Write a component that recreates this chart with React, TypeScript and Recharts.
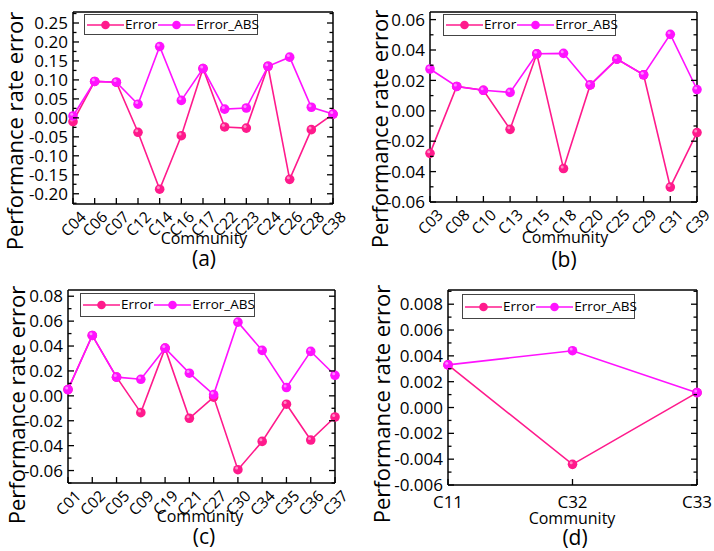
import React from "react";
import { LineChart, Line, XAxis, YAxis, Legend } from "recharts";

// ---- data -------------------------------------------------------------
const seriesNames = ["Error", "Error_ABS"];

const catsA = ["C04", "C06", "C07", "C12", "C14", "C16", "C17", "C22", "C23", "C24", "C26", "C28", "C38"];
const errA = [-0.01, 0.096, 0.094, -0.038, -0.188, -0.047, 0.13, -0.024, -0.027, 0.136, -0.162, -0.031, 0.01];
const absA = [0.005, 0.096, 0.094, 0.036, 0.188, 0.046, 0.13, 0.023, 0.026, 0.136, 0.16, 0.028, 0.01];
const ticksA = [-0.2, -0.15, -0.1, -0.05, 0, 0.05, 0.1, 0.15, 0.2, 0.25];

const catsB = ["C03", "C08", "C10", "C13", "C15", "C18", "C20", "C25", "C29", "C31", "C39"];
const errB = [-0.028, 0.016, 0.0135, -0.0122, 0.0375, -0.038, 0.017, 0.034, 0.0237, -0.0502, -0.0143];
const absB = [0.0275, 0.016, 0.0135, 0.0121, 0.0375, 0.0378, 0.017, 0.034, 0.0237, 0.0503, 0.014];
const ticksB = [-0.06, -0.04, -0.02, 0, 0.02, 0.04, 0.06];

const catsC = ["C01", "C02", "C05", "C09", "C19", "C21", "C27", "C30", "C34", "C35", "C36", "C37"];
const errC = [0.005, 0.0485, 0.015, -0.0135, 0.0383, -0.018, -0.001, -0.0593, -0.0366, -0.0067, -0.0355, -0.017];
const absC = [0.005, 0.0485, 0.015, 0.0133, 0.0383, 0.0182, 0.001, 0.0592, 0.0365, 0.0067, 0.0357, 0.0165];
const ticksC = [-0.06, -0.04, -0.02, 0, 0.02, 0.04, 0.06, 0.08];

const catsD = ["C11", "C32", "C33"];
const errD = [0.0033, -0.0044, 0.00115];
const absD = [0.0033, 0.0044, 0.00115];
const ticksD = [-0.006, -0.004, -0.002, 0, 0.002, 0.004, 0.006, 0.008];

// ---- styling ----------------------------------------------------------
const ERR_COLOR = "#ff1a8c";
const ABS_COLOR = "#ff12ff";
const FONT = "'Open Sans', sans-serif";

const build = (cats: string[], err: number[], abs: number[]) =>
  cats.map((name, i) => ({ name, Error: err[i], Error_ABS: abs[i] }));

// majors plus a minor tick half way between each pair (and past the ends, if in range)
const withMinors = (majors: number[], domain: [number, number]) => {
  const step = majors[1] - majors[0];
  const out: number[] = [];
  const cand = [majors[0] - step / 2, ...majors.flatMap((m) => [m, m + step / 2])];
  cand.forEach((v) => {
    if (v >= domain[0] - 1e-12 && v <= domain[1] + 1e-12) out.push(+v.toFixed(6));
  });
  return out;
};

const isMajor = (majors: number[], v: number) => majors.some((m) => Math.abs(m - v) < 1e-9);

const LeftTick = (props: any) => {
  const { x, y, payload, majors, digits } = props;
  const major = isMajor(majors, payload.value);
  return (
    <g>
      <line x1={x} x2={x + (major ? 6 : 3.5)} y1={y} y2={y} stroke="#000" strokeWidth={1.3} />
      {major && (
        <text x={x - 5} y={y} dy="0.36em" textAnchor="end" fontSize={17} fontFamily={FONT} fill="#000">
          {payload.value.toFixed(digits)}
        </text>
      )}
    </g>
  );
};

const RightTick = (props: any) => {
  const { x, y, payload, majors } = props;
  const major = isMajor(majors, payload.value);
  return <line x1={x} x2={x - (major ? 6 : 3.5)} y1={y} y2={y} stroke="#000" strokeWidth={1.3} />;
};

const BottomTick = (props: any) => {
  const { x, y, payload, rotate } = props;
  return (
    <g>
      <line x1={x} x2={x} y1={y} y2={y - 6} stroke="#000" strokeWidth={1.3} />
      {rotate ? (
        <text
          transform={`translate(${x + 10},${y + 10}) rotate(-45)`}
          dy="0.36em"
          textAnchor="end"
          fontSize={15.5}
          fontFamily={FONT}
          fill="#000"
        >
          {payload.value}
        </text>
      ) : (
        <text x={x} y={y + 17} dy="0.36em" textAnchor="middle" fontSize={17} fontFamily={FONT} fill="#000">
          {payload.value}
        </text>
      )}
    </g>
  );
};

const Ball = (color: string) => (p: any) => {
  const { cx, cy, index } = p;
  if (cx == null || cy == null) return <g key={index} />;
  return (
    <g key={index}>
      <circle cx={cx} cy={cy} r={4.8} fill={color} />
      <circle cx={cx - 1.3} cy={cy - 1.6} r={1.5} fill="#fff" opacity={0.5} />
    </g>
  );
};

const LegendBox = ({ payload, width, height }: any) => {
  const colors = [ERR_COLOR, ABS_COLOR];
  return (
    <div
      style={{
        width,
        height,
        boxSizing: "border-box",
        border: "1px solid #444",
        background: "#fff",
        display: "flex",
        alignItems: "center",
        paddingLeft: 2,
      }}
    >
      {seriesNames.map((name, i) => (
        <span key={name} style={{ display: "flex", alignItems: "center" }}>
          <svg width={37} height={10}>
            <line x1={0} x2={37} y1={5} y2={5} stroke={colors[i]} strokeWidth={1.6} />
            <circle cx={18.5} cy={5} r={4.3} fill={colors[i]} />
          </svg>
          <span style={{ fontFamily: FONT, fontSize: 13.5, color: "#000", lineHeight: 1, margin: "0 1px" }}>
            {payload && payload[i] ? payload[i].value : name}
          </span>
        </span>
      ))}
    </div>
  );
};

type PanelDef = {
  left: number;
  top: number;
  data: { name: string; Error: number; Error_ABS: number }[];
  majors: number[];
  domain: [number, number];
  digits: number;
  plot: { l: number; r: number; t: number; b: number };
  rotate: boolean;
  legend: { x: number; y: number; w: number; h: number };
  yTitle: { x: number; y: number };
  xTitle: { x: number; y: number };
  caption: { x: number; y: number; text: string };
};

const W = 357;
const H = 276;

const Panel = ({ p }: { p: PanelDef }) => {
  const ticks = withMinors(p.majors, p.domain);
  const axisStroke = { stroke: "#000", strokeWidth: 1.5 };
  return (
    <div style={{ position: "absolute", left: p.left, top: p.top, width: W, height: H }}>
      <LineChart
        width={W}
        height={H}
        data={p.data}
        margin={{ top: p.plot.t - 1, right: W - p.plot.r - 1, bottom: H - p.plot.b - 1, left: p.plot.l - 1 }}
      >
        <XAxis
          xAxisId="bottom"
          dataKey="name"
          type="category"
          scale="point"
          padding={{ left: 0, right: 0 }}
          height={1}
          interval={0}
          tickSize={0}
          tickMargin={0}
          tickLine={false}
          axisLine={axisStroke}
          tick={(t: any) => <BottomTick {...t} rotate={p.rotate} />}
        />
        <XAxis
          xAxisId="top"
          orientation="top"
          dataKey="name"
          type="category"
          scale="point"
          padding={{ left: 0, right: 0 }}
          height={1}
          tick={false}
          tickLine={false}
          axisLine={axisStroke}
        />
        <YAxis
          yAxisId="left"
          type="number"
          domain={p.domain}
          allowDataOverflow
          ticks={ticks}
          interval={0}
          width={1}
          tickSize={0}
          tickMargin={0}
          tickLine={false}
          axisLine={axisStroke}
          tick={(t: any) => <LeftTick {...t} majors={p.majors} digits={p.digits} />}
        />
        <YAxis
          yAxisId="right"
          orientation="right"
          type="number"
          domain={p.domain}
          allowDataOverflow
          ticks={ticks}
          interval={0}
          width={1}
          tickSize={0}
          tickMargin={0}
          tickLine={false}
          axisLine={axisStroke}
          tick={(t: any) => <RightTick {...t} majors={p.majors} />}
        />
        <Legend
          layout="horizontal"
          verticalAlign="middle"
          align="center"
          wrapperStyle={{ position: "absolute", left: p.legend.x, top: p.legend.y, width: p.legend.w, height: p.legend.h }}
          content={(lp: any) => <LegendBox {...lp} width={p.legend.w} height={p.legend.h} />}
        />
        <Line
          xAxisId="bottom"
          yAxisId="left"
          dataKey="Error"
          name={seriesNames[0]}
          stroke={ERR_COLOR}
          strokeWidth={1.6}
          dot={Ball(ERR_COLOR)}
          activeDot={false}
          isAnimationActive={false}
        />
        <Line
          xAxisId="top"
          yAxisId="right"
          dataKey="Error_ABS"
          name={seriesNames[1]}
          stroke={ABS_COLOR}
          strokeWidth={1.6}
          dot={Ball(ABS_COLOR)}
          activeDot={false}
          isAnimationActive={false}
        />
      </LineChart>
      <div
        style={{
          position: "absolute",
          left: p.yTitle.x,
          top: p.yTitle.y,
          transform: "translate(-50%, -50%) rotate(-90deg)",
          whiteSpace: "nowrap",
          fontFamily: FONT,
          fontSize: 22,
          lineHeight: 1,
          color: "#000",
        }}
      >
        Performance rate error
      </div>
      <div
        style={{
          position: "absolute",
          left: p.xTitle.x,
          top: p.xTitle.y,
          transform: "translate(-50%, -50%)",
          whiteSpace: "nowrap",
          fontFamily: FONT,
          fontSize: 16,
          lineHeight: 1,
          color: "#000",
        }}
      >
        Community
      </div>
      <div
        style={{
          position: "absolute",
          left: p.caption.x,
          top: p.caption.y,
          transform: "translate(-50%, -50%)",
          whiteSpace: "nowrap",
          fontFamily: FONT,
          fontSize: 21,
          lineHeight: 1,
          color: "#000",
        }}
      >
        {p.caption.text}
      </div>
    </div>
  );
};

const panels: PanelDef[] = [
  {
    left: 0,
    top: 0,
    data: build(catsA, errA, absA),
    majors: ticksA,
    domain: [-0.227, 0.279],
    digits: 2,
    plot: { l: 73, r: 333, t: 12, b: 204 },
    rotate: true,
    legend: { x: 84, y: 14, w: 174, h: 21 },
    yTitle: { x: 14, y: 131 },
    xTitle: { x: 204, y: 238 },
    caption: { x: 204, y: 258, text: "(a)" },
  },
  {
    left: 357,
    top: 0,
    data: build(catsB, errB, absB),
    majors: ticksB,
    domain: [-0.06, 0.065],
    digits: 2,
    plot: { l: 73, r: 340, t: 12, b: 202 },
    rotate: true,
    legend: { x: 86, y: 14, w: 173, h: 22 },
    yTitle: { x: 22, y: 129 },
    xTitle: { x: 208, y: 237 },
    caption: { x: 207, y: 259, text: "(b)" },
  },
  {
    left: 0,
    top: 276,
    data: build(catsC, errC, absC),
    majors: ticksC,
    domain: [-0.07, 0.085],
    digits: 2,
    plot: { l: 68, r: 335, t: 14, b: 207 },
    rotate: true,
    legend: { x: 80, y: 17, w: 175, h: 24 },
    yTitle: { x: 16, y: 129 },
    xTitle: { x: 200, y: 240 },
    caption: { x: 204, y: 260, text: "(c)" },
  },
  {
    left: 357,
    top: 276,
    data: build(catsD, errD, absD),
    majors: ticksD,
    domain: [-0.006, 0.0091],
    digits: 3,
    plot: { l: 91, r: 340, t: 14, b: 209 },
    rotate: false,
    legend: { x: 105, y: 18, w: 173, h: 25 },
    yTitle: { x: 24, y: 128 },
    xTitle: { x: 215, y: 242 },
    caption: { x: 218, y: 261, text: "(d)" },
  },
];

export default function App() {
  return (
    <div style={{ position: "absolute", left: 0, top: 0, width: 714, height: 551, background: "#fff", overflow: "hidden" }}>
      {panels.map((p) => (
        <Panel key={p.caption.text} p={p} />
      ))}
    </div>
  );
}
